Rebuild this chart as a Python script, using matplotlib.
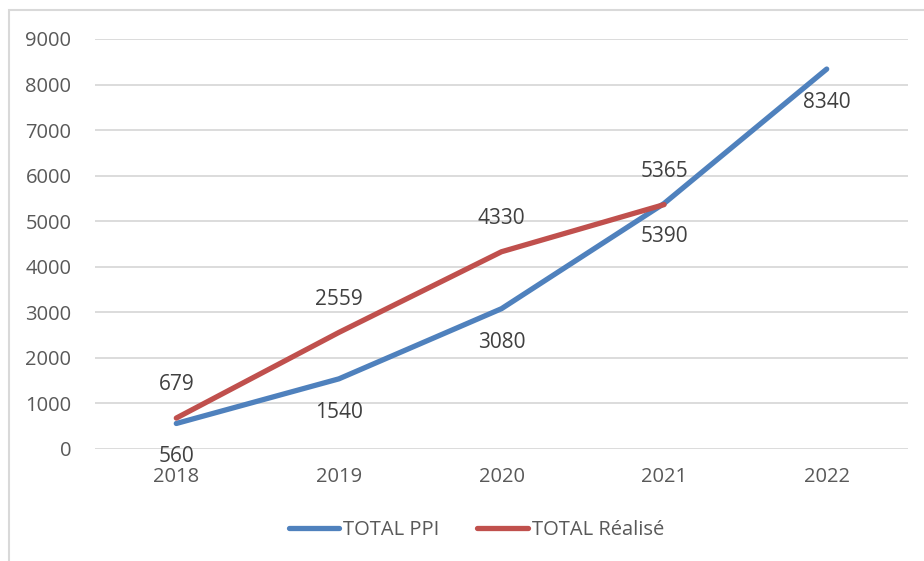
import matplotlib
matplotlib.use('Agg')
import matplotlib.pyplot as plt
from matplotlib.patches import Rectangle

# data
years = ["2018", "2019", "2020", "2021", "2022"]
ppi = [560, 1540, 3080, 5390, 8340]
realise = [679, 2559, 4330, 5365]

BLUE = "#4F81BD"; RED = "#C0504D"
TICK = "#595959"; LABEL = "#404040"; GRID = "#D9D9D9"

plt.rcParams['font.family'] = ['Open Sans', 'DejaVu Sans']

W, H = 924, 561
fig = plt.figure(figsize=(W / 100, H / 100), dpi=100)
fig.patch.set_facecolor("white")

# outer chart border (only left + top visible in the crop)
fig.patches.append(Rectangle((9 / W, -0.1), 1.2, (H - 10) / H + 0.1,
                             transform=fig.transFigure, fill=False,
                             edgecolor="#D9D9D9", linewidth=1.5))

ax = fig.add_axes([95 / W, 112 / H, (908 - 95) / W, (449 - 39) / H])
x = list(range(len(years)))

ax.plot(x, ppi, color=BLUE, linewidth=3.8, solid_capstyle='round', label="TOTAL PPI", zorder=3)
ax.plot(x[:len(realise)], realise, color=RED, linewidth=3.8, solid_capstyle='round',
        label="TOTAL Réalisé", zorder=3)

for xi, v in zip(x, ppi):
    ax.annotate(str(v), (xi, v), xytext=(0, -24), textcoords='offset points',
                ha='center', va='center', fontsize=15, color=LABEL)
for xi, v in zip(x, realise):
    ax.annotate(str(v), (xi, v), xytext=(0, 24), textcoords='offset points',
                ha='center', va='center', fontsize=15, color=LABEL)

ax.set_xlim(-0.5, 4.5)
ax.set_ylim(0, 9000)
ax.set_yticks(range(0, 9001, 1000))
ax.set_xticks(x)
ax.set_xticklabels(years)
ax.yaxis.grid(True, color=GRID, linewidth=1.3)
ax.set_axisbelow(True)
for s in ax.spines.values():
    s.set_visible(False)
ax.tick_params(axis='both', length=0, colors=TICK, labelsize=14.5)
ax.tick_params(axis='y', pad=17)
ax.tick_params(axis='x', pad=13)

leg = ax.legend(loc='center', bbox_to_anchor=(0.469, (530 - 449) / -(449 - 39)),
                ncol=2, frameon=False, fontsize=14.5, handlelength=2.5,
                handletextpad=0.2, columnspacing=1.9)
for t in leg.get_texts():
    t.set_color(TICK)

fig.savefig("out.png", dpi=100)
